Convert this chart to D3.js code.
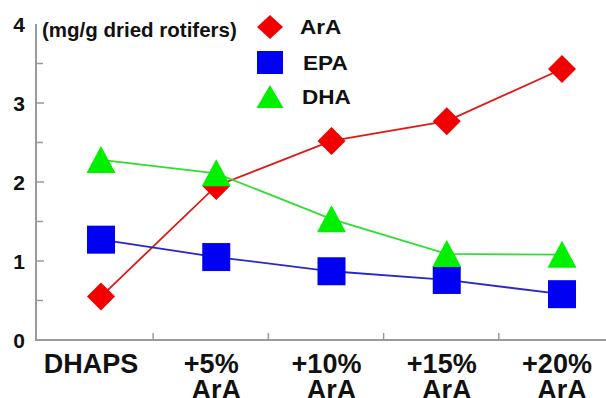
<!DOCTYPE html>
<html><head><meta charset="utf-8">
<script src="https://cdn.jsdelivr.net/npm/d3@7/dist/d3.min.js"></script>
<style>body{margin:0;background:#fff}svg{display:block}text{font-family:"Liberation Sans",Arial,sans-serif;font-weight:bold;fill:#111}</style>
</head><body><div id="c"></div>
<script>
const categories = [["DHAPS"],["+5%","ArA"],["+10%","ArA"],["+15%","ArA"],["+20%","ArA"]];
const ara = [0.55, 1.95, 2.52, 2.77, 3.43];
const epa = [1.27, 1.05, 0.87, 0.76, 0.58];
const dha = [2.28, 2.11, 1.53, 1.09, 1.08];
const yTicks = [0,1,2,3,4];
const yMinor = [0.5,1.5,2.5,3.5];
const seriesNames = ["ArA","EPA","DHA"];

const W=606,H=398;
const svg=d3.select("#c").append("svg").attr("width",W).attr("height",H);
const xb=d3.scaleBand().domain(d3.range(categories.length)).range([38,614]);
const x=d3.scalePoint().domain(d3.range(categories.length)).range([101,562]);
const y=d3.scaleLinear().domain([0,4]).range([340,24]);
const AX="#9a9a9a";

// axes
const g=svg.append("g");
g.append("line").attr("x1",36).attr("x2",36).attr("y1",y(4)).attr("y2",y(0)).attr("stroke",AX).attr("stroke-width",2);
g.append("line").attr("x1",35).attr("x2",606).attr("y1",y(0)).attr("y2",y(0)).attr("stroke",AX).attr("stroke-width",2);
yTicks.slice(1,4).forEach(t=>g.append("line").attr("x1",36).attr("x2",44).attr("y1",y(t)).attr("y2",y(t)).attr("stroke",AX).attr("stroke-width",1.5));
yMinor.forEach(t=>g.append("line").attr("x1",36).attr("x2",43).attr("y1",y(t)).attr("y2",y(t)).attr("stroke",AX).attr("stroke-width",1.5));
for(let i=1;i<categories.length;i++){const xx=xb(i);g.append("line").attr("x1",xx).attr("x2",xx).attr("y1",y(0)).attr("y2",y(0)-7).attr("stroke",AX).attr("stroke-width",1.5);}
yTicks.forEach(t=>svg.append("text").attr("x",25).attr("y",y(t)).attr("dy","0.36em").attr("text-anchor","end").attr("font-size",21).text(t));
categories.forEach((c,i)=>{
  const off = c.length===1 ? -10 : -5;
  c.forEach((s,j)=>svg.append("text").attr("text-anchor","middle").attr("font-size",27)
    .attr("x",x(i)+(j===0?off:0)).attr("y",373+j*26).text(s));});
svg.append("text").attr("x",42).attr("y",37).attr("font-size",20.5).text("(mg/g dried rotifers)");

const line=d3.line().x((d,i)=>x(i)).y(d=>y(d));
svg.append("path").datum(ara).attr("d",line).attr("fill","none").attr("stroke","#e01818").attr("stroke-width",1.8);
svg.append("path").datum(epa).attr("d",line).attr("fill","none").attr("stroke","#2828c8").attr("stroke-width",1.8);
svg.append("path").datum(dha).attr("d",line).attr("fill","none").attr("stroke","#30dd30").attr("stroke-width",1.8);

const diamond=(px,py,r=14)=>`M${px},${py-r}L${px+r},${py}L${px},${py+r}L${px-r},${py}Z`;
const square=(px,py,h=14)=>`M${px-h},${py-h}h${2*h}v${2*h}h${-2*h}Z`;
const tri=(px,py)=>`M${px},${py-14}L${px+14.5},${py+13}L${px-14.5},${py+13}Z`;
epa.forEach((d,i)=>svg.append("path").attr("d",square(x(i),y(d))).attr("fill","#0000f2"));
ara.forEach((d,i)=>svg.append("path").attr("d",diamond(x(i),y(d))).attr("fill","#f20000"));
dha.forEach((d,i)=>svg.append("path").attr("d",tri(x(i),y(d))).attr("fill","#00f000"));

// legend
const lg=[{n:seriesNames[0],s:(a,b)=>`M${a},${b-12}L${a+13},${b}L${a},${b+12}L${a-13},${b}Z`,c:"#f20000",y:27,tx:300},
          {n:seriesNames[1],s:(a,b)=>`M${a-13},${b-11.5}h26v23h-26Z`,c:"#0000f2",y:62.5,tx:303},
          {n:seriesNames[2],s:(a,b)=>`M${a},${b-12}L${a+13.5},${b+11}L${a-13.5},${b+11}Z`,c:"#00f000",y:97,tx:302}];
lg.forEach(l=>{svg.append("path").attr("d",l.s(270,l.y)).attr("fill",l.c);
 svg.append("text").attr("transform",`translate(${l.tx},${l.y+7}) scale(1.13,1)`).attr("font-size",20).text(l.n);});
</script></body></html>
